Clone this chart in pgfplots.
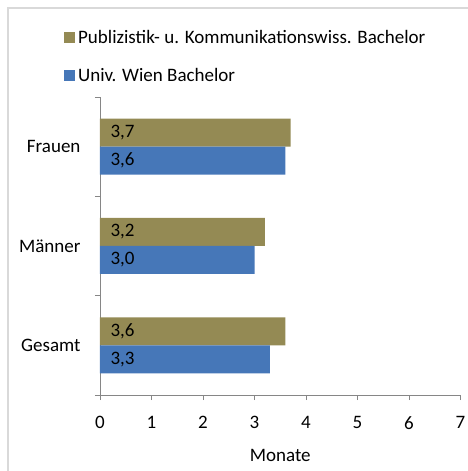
\documentclass[border=0pt]{standalone}
\usepackage{fontspec}
\setmainfont{Carlito}
\usepackage{pgfplots}
\pgfplotsset{compat=1.18}
\usepackage{pgfplotstable}
\definecolor{pubcol}{HTML}{948A54}
\definecolor{wiencol}{HTML}{4677B8}
\definecolor{axisgray}{HTML}{868686}
\definecolor{framecol}{HTML}{D9D9D9}
\pgfplotstableread{
pos pub wien
0 3.6 3.3
1 3.2 3.0
2 3.7 3.6
}\data
\begin{document}
\fontsize{19}{23}\selectfont
\begin{tikzpicture}[x=1pt,y=1pt]
\path[use as bounding box] (-100,-76) rectangle (367,395);
\draw[color=framecol, line width=1.4pt] (-92,-90) -- (-92,387) -- (380,387);
\begin{axis}[
  at={(0,0)}, anchor=south west,
  scale only axis, width=360.5pt, height=298pt,
  xmin=0, xmax=7, ymin=-0.5, ymax=2.5,
  axis lines*=left,
  axis line style={draw=axisgray, line width=0.9pt},
  tick style={draw=axisgray, line width=0.9pt},
  tick align=outside, major tick length=5pt,
  xtick={0,1,2,3,4,5,6,7},
  ytick={-0.5,0.5,1.5,2.5}, yticklabels={},
  extra y ticks={0,1,2},
  extra y tick labels={Gesamt,Männer,Frauen},
  extra y tick style={tick style={draw=none}},
  yticklabel style={xshift=-8pt},
  xticklabel style={yshift=-10pt},
  /pgf/number format/assume math mode=true,
  xlabel={Monate},
  xlabel style={yshift=-7pt},
  legend style={at={(-0.1,1.236)}, anchor=north west, draw=none, fill=none,
    legend cell align=left, row sep=16pt, inner sep=0pt,
    nodes={inner sep=3pt}},
]
\addplot[xbar, bar width=28pt, bar shift=14pt, fill=pubcol, draw=none,
  legend image code/.code={\fill[pubcol] (0pt,-5.5pt) rectangle (11pt,5.5pt);}]
  table[x=pub,y=pos]{\data};
\addlegendentry{Publizistik- u. Kommunikationswiss. Bachelor}
\addplot[xbar, bar width=28pt, bar shift=-14pt, fill=wiencol, draw=none,
  legend image code/.code={\fill[wiencol] (0pt,-5.5pt) rectangle (11pt,5.5pt);}]
  table[x=wien,y=pos]{\data};
\addlegendentry{Univ. Wien Bachelor}
\addplot[draw=none, mark=none, forget plot, point meta=explicit,
  nodes near coords={\pgfmathprintnumber[fixed,fixed zerofill,precision=1,use comma,assume math mode=true]{\pgfplotspointmeta}},
  every node near coord/.append style={anchor=west, yshift=14pt, xshift=4pt}]
  table[x expr=0, y=pos, meta=pub]{\data};
\addplot[draw=none, mark=none, forget plot, point meta=explicit,
  nodes near coords={\pgfmathprintnumber[fixed,fixed zerofill,precision=1,use comma,assume math mode=true]{\pgfplotspointmeta}},
  every node near coord/.append style={anchor=west, yshift=-14pt, xshift=4pt}]
  table[x expr=0, y=pos, meta=wien]{\data};
\end{axis}
\end{tikzpicture}
\end{document}
